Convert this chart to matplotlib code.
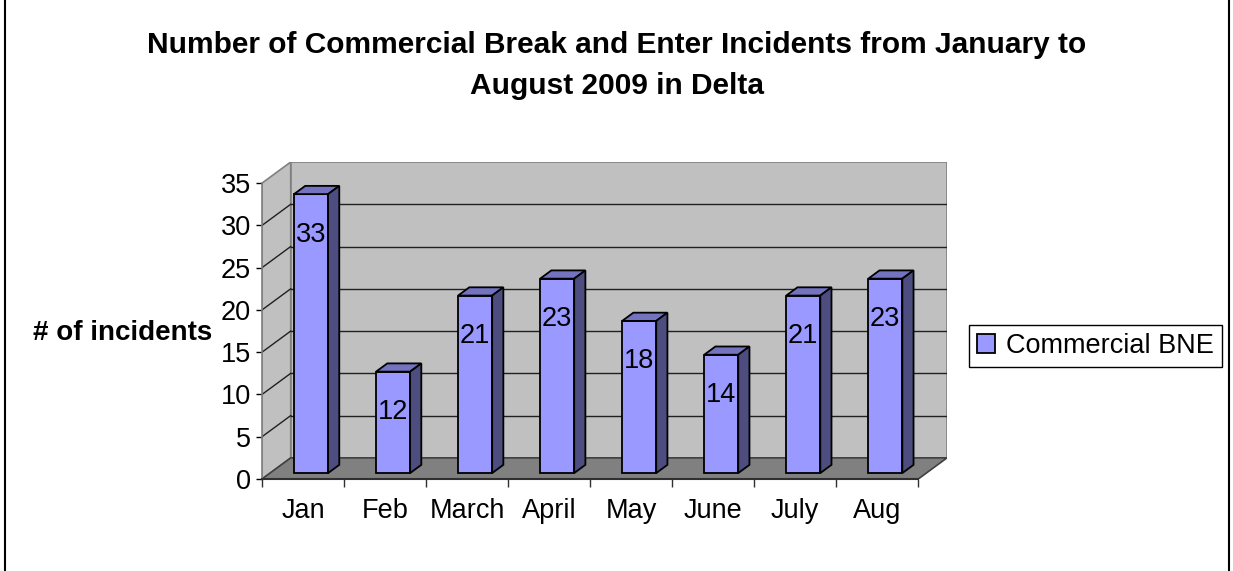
import matplotlib
matplotlib.use("Agg")
import matplotlib.pyplot as plt
from matplotlib.patches import Polygon, Rectangle

plt.rcParams['font.family'] = ['Liberation Sans', 'DejaVu Sans']

# chart data
months = ['Jan', 'Feb', 'March', 'April', 'May', 'June', 'July', 'Aug']
incidents = [33, 12, 21, 23, 18, 14, 21, 23]
series_name = 'Commercial BNE'
title = 'Number of Commercial Break and Enter Incidents from January to\nAugust 2009 in Delta'
y_label = '# of incidents'
y_ticks = [0, 5, 10, 15, 20, 25, 30, 35]

# fake 3d look: depth offset of the back wall, in data units
DX, DY = 0.35, 2.5
Y_MAX = 35
BAR_W = 0.415
F0, F1 = 0.28, 0.67   # front / back of the bars as fraction of the depth

FRONT = '#9999FF'
TOP = '#7373C0'
SIDE = '#4D4D80'

fig = plt.figure(figsize=(12.33, 5.71), dpi=100)
ax = fig.add_axes([262 / 1233, 92 / 571, 685 / 1233, 317 / 571])
ax.set_facecolor('none')
n = len(months)
ax.set_xlim(0, n + DX)
ax.set_ylim(0, Y_MAX + DY)

# walls and floor
left_wall = Polygon([(0, 0), (DX, DY), (DX, Y_MAX + DY), (0, Y_MAX)],
                    facecolor='#C0C0C0', edgecolor='#808080', lw=1.2, zorder=0)
back_wall = Polygon([(DX, DY), (n + DX, DY), (n + DX, Y_MAX + DY), (DX, Y_MAX + DY)],
                    facecolor='#C0C0C0', edgecolor='#808080', lw=1.2, zorder=0)
floor = Polygon([(0, 0), (n, 0), (n + DX, DY), (DX, DY)],
                facecolor='#808080', edgecolor='#404040', lw=1.2, zorder=0.5)
for p in (left_wall, back_wall, floor):
    ax.add_patch(p)

# gridlines on the back wall and the side wall
for t in y_ticks[1:-1]:
    ax.plot([DX, n + DX], [t + DY, t + DY], color='#202020', lw=1, zorder=0.6)
    ax.plot([0, DX], [t, t + DY], color='#202020', lw=1, zorder=0.6)

# bars: front face, top and side
x_front = [i + 0.5 + F0 * DX for i in range(n)]
bars = ax.bar(x_front, incidents, width=BAR_W, bottom=F0 * DY, color=FRONT,
              edgecolor='black', lw=1.3, zorder=3, label=series_name)
ddx = (F1 - F0) * DX
ddy = (F1 - F0) * DY
for xc, v in zip(x_front, incidents):
    x0, x1 = xc - BAR_W / 2, xc + BAR_W / 2
    y0, y1 = F0 * DY, F0 * DY + v
    top = Polygon([(x0, y1), (x1, y1), (x1 + ddx, y1 + ddy), (x0 + ddx, y1 + ddy)],
                  facecolor=TOP, edgecolor='black', lw=1.3, zorder=3)
    side = Polygon([(x1, y0), (x1 + ddx, y0 + ddy), (x1 + ddx, y1 + ddy), (x1, y1)],
                   facecolor=SIDE, edgecolor='black', lw=1.3, zorder=3)
    ax.add_patch(top)
    ax.add_patch(side)
    ax.text(xc, y1 - 4.8, str(v), ha='center', va='center', fontsize=19.5, zorder=4)

# axes lines
for s in ('top', 'right'):
    ax.spines[s].set_visible(False)
ax.spines['left'].set_bounds(0, Y_MAX)
ax.spines['left'].set_color('#808080')
ax.spines['left'].set_linewidth(1.2)
ax.spines['bottom'].set_bounds(0, n)
ax.spines['bottom'].set_color('#303030')
ax.spines['bottom'].set_linewidth(1.5)

ax.set_yticks(y_ticks)
ax.tick_params(axis='y', direction='out', length=4, width=1, color='black',
               labelsize=19.5, pad=4)
ax.set_xticks(range(n + 1))
ax.set_xticklabels([])
ax.tick_params(axis='x', which='major', direction='out', length=6, width=1, color='#303030')
ax.set_xticks([i + 0.5 for i in range(n)], minor=True)
ax.set_xticklabels(months, minor=True)
ax.tick_params(axis='x', which='minor', length=0, labelsize=19.5, pad=14)

ax.set_ylabel(y_label, rotation=0, fontsize=20, fontweight='bold', ha='right', va='center')
ax.yaxis.set_label_coords(-0.072, 0.46)

fig.text(0.5, 1 - 31 / 571, title, ha='center', va='top', fontsize=21.5,
         fontweight='bold', linespacing=1.6)

leg = ax.legend(handles=[bars], loc='center left', bbox_to_anchor=(969 / 1233, 1 - 346 / 571),
                bbox_transform=fig.transFigure, fontsize=19.5, frameon=True, fancybox=False,
                edgecolor='black', framealpha=1, borderpad=0.3, handlelength=0.67,
                handleheight=0.67, handletextpad=0.4, borderaxespad=0)
leg.get_frame().set_linewidth(1)

# outer chart frame
fig.patches.append(Rectangle((5 / 1233, -4 / 571), 1224 / 1233, 579 / 571, fill=False,
                             edgecolor='black', lw=1.5, transform=fig.transFigure))

fig.savefig('out.png', dpi=100)
